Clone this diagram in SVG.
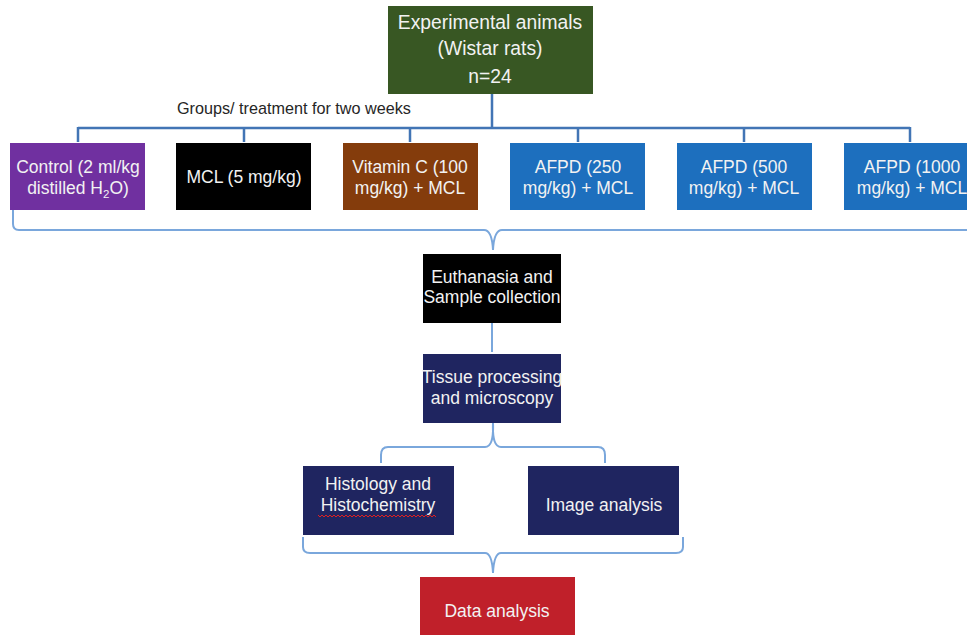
<svg xmlns="http://www.w3.org/2000/svg" width="967" height="635" viewBox="0 0 967 635">
<style>
.t{font-family:"Liberation Sans",Arial,sans-serif;fill:#f2f2f2;text-anchor:middle;font-size:17.5px}
.big{font-size:19.3px}
.lab{font-family:"Liberation Sans",Arial,sans-serif;fill:#262626;font-size:16.2px}
.tree{fill:none;stroke:#4275b5;stroke-width:2.5}
.brace{fill:none;stroke:#7aa7dc;stroke-width:2}
</style>
<rect width="967" height="635" fill="#ffffff"/>
<g id="connectors">
<path class="tree" d="M492,94 V128 M78,128 H910 M78,127 V142 M244,127 V142 M410,127 V142 M578,127 V142 M744,127 V142 M910,127 V142"/>
<path class="brace" d="M13,206 V224 Q13,230 19,230 H484 Q492,230 493,250 Q494,230 502,230 H967"/>
<path class="brace" d="M492,323 V352"/>
<path class="brace" d="M493,423 Q494,447 485,447 H388 Q381,447 381,455 V463 M493,423 Q492,447 501,447 H598 Q605,447 605,455 V463"/>
<path class="brace" d="M303,537 V547 Q303,553 310,553 H485 Q492,553 493,573 Q494,553 501,553 H676 Q683,553 683,547 V537"/>
</g>
<text class="lab" x="177" y="114">Groups/ treatment for two weeks</text>
<g id="animals">
<rect x="388" y="6" width="205" height="88" fill="#385723"/>
<text class="t big" x="490" y="29">Experimental animals</text>
<text class="t big" x="490" y="55">(Wistar rats)</text>
<text class="t big" x="490" y="83">n=24</text>
</g>
<g id="control">
<rect x="10" y="143" width="135" height="67" fill="#7030a0"/>
<text class="t" x="78" y="173">Control (2 ml/kg</text>
<text class="t" x="78" y="194">distilled H<tspan font-size="11.5" dy="4">2</tspan><tspan dy="-4">O)</tspan></text>
</g>
<g id="mcl">
<rect x="176" y="143" width="135" height="67" fill="#000000"/>
<text class="t" x="244" y="183">MCL (5 mg/kg)</text>
</g>
<g id="vitc">
<rect x="343" y="143" width="135" height="67" fill="#843c0c"/>
<text class="t" x="410" y="173">Vitamin C (100</text>
<text class="t" x="410" y="194">mg/kg) + MCL</text>
</g>
<g id="afpd250">
<rect x="510" y="143" width="135" height="67" fill="#1d6fbe"/>
<text class="t" x="578" y="173">AFPD (250</text>
<text class="t" x="578" y="194">mg/kg) + MCL</text>
</g>
<g id="afpd500">
<rect x="677" y="143" width="135" height="67" fill="#1d6fbe"/>
<text class="t" x="744" y="173">AFPD (500</text>
<text class="t" x="744" y="194">mg/kg) + MCL</text>
</g>
<g id="afpd1000">
<rect x="844" y="143" width="135" height="67" fill="#1d6fbe"/>
<text class="t" x="912" y="173">AFPD (1000</text>
<text class="t" x="912" y="194">mg/kg) + MCL</text>
</g>
<g id="euthanasia">
<rect x="423" y="254" width="138" height="69" fill="#000000"/>
<text class="t" x="492" y="283">Euthanasia and</text>
<text class="t" x="492" y="303">Sample collection</text>
</g>
<g id="tissue">
<rect x="423" y="354" width="138" height="69" fill="#1f2560"/>
<text class="t" x="492" y="383">Tissue processing</text>
<text class="t" x="492" y="404">and microscopy</text>
</g>
<g id="histology">
<rect x="303" y="466" width="151" height="69" fill="#1f2560"/>
<text class="t" x="378" y="490">Histology and</text>
<text class="t" x="378" y="511">Histochemistry</text>
<path d="M318,515 l2,2 l2,-2 l2,2 l2,-2 l2,2 l2,-2 l2,2 l2,-2 l2,2 l2,-2 l2,2 l2,-2 l2,2 l2,-2 l2,2 l2,-2 l2,2 l2,-2 l2,2 l2,-2 l2,2 l2,-2 l2,2 l2,-2 l2,2 l2,-2 l2,2 l2,-2 l2,2 l2,-2 l2,2 l2,-2 l2,2 l2,-2 l2,2 l2,-2 l2,2 l2,-2 l2,2 l2,-2 l2,2 l2,-2 l2,2 l2,-2 l2,2 l2,-2 l2,2 l2,-2 l2,2 l2,-2 l2,2 l2,-2 l2,2 l2,-2 l2,2 l2,-2 l2,2 l2,-2 l2,2" fill="none" stroke="#e02020" stroke-width="1"/>
</g>
<g id="image">
<rect x="528" y="466" width="151" height="69" fill="#1f2560"/>
<text class="t" x="604" y="511">Image analysis</text>
</g>
<g id="data">
<rect x="420" y="577" width="155" height="62" fill="#c0202a"/>
<text class="t" x="497" y="617" font-size="18.3">Data analysis</text>
</g>
</svg>
